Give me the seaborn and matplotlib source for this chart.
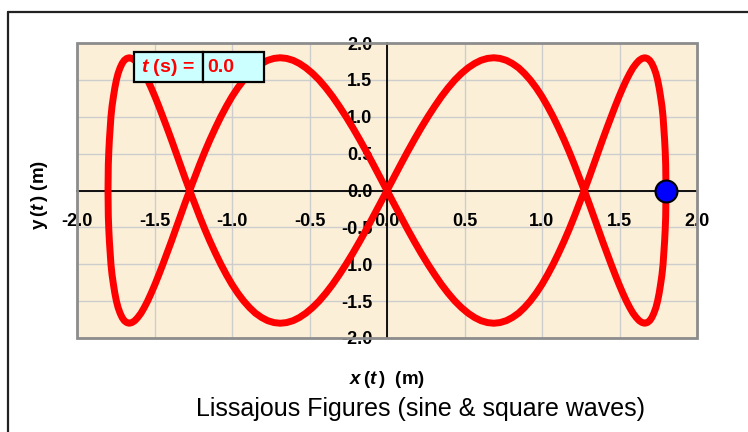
import matplotlib
matplotlib.use("Agg")
import matplotlib.pyplot as plt
from matplotlib.patches import Rectangle
from matplotlib.lines import Line2D
from matplotlib.ticker import MultipleLocator
import seaborn as sns
import pandas as pd

# ---- data: x(t), y(t) in metres, traced once round the figure ----
x_pos_m = [
    # right extreme -> centre (upper/lower lobes)
    1.800, 1.799, 1.798, 1.795, 1.791, 1.786, 1.781, 1.774, 1.765, 1.756, 1.746, 1.735, 1.722, 1.709, 1.695, 1.679,
    1.663, 1.646, 1.627, 1.608, 1.587, 1.566, 1.544, 1.521, 1.497, 1.472, 1.446, 1.419, 1.391, 1.363, 1.334, 1.304,
    1.273, 1.241, 1.209, 1.176, 1.142, 1.107, 1.072, 1.036, 1.000, 0.963, 0.925, 0.887, 0.849, 0.809, 0.770, 0.729,
    0.689, 0.648, 0.606, 0.565, 0.523, 0.480, 0.437, 0.394, 0.351, 0.308, 0.264, 0.220, 0.176, 0.132, 0.088, 0.044,
    0.000,
    # centre -> left extreme
    -0.044, -0.088, -0.132, -0.176, -0.220, -0.264, -0.308, -0.351, -0.394, -0.437, -0.480, -0.523, -0.565, -0.606, -0.648, -0.689,
    -0.729, -0.770, -0.809, -0.849, -0.887, -0.925, -0.963, -1.000, -1.036, -1.072, -1.107, -1.142, -1.176, -1.209, -1.241, -1.273,
    -1.304, -1.334, -1.363, -1.391, -1.419, -1.446, -1.472, -1.497, -1.521, -1.544, -1.566, -1.587, -1.608, -1.627, -1.646, -1.663,
    -1.679, -1.695, -1.709, -1.722, -1.735, -1.746, -1.756, -1.765, -1.774, -1.781, -1.786, -1.791, -1.795, -1.798, -1.799, -1.800,
    # left extreme -> centre
    -1.799, -1.798, -1.795, -1.791, -1.786, -1.781, -1.774, -1.765, -1.756, -1.746, -1.735, -1.722, -1.709, -1.695, -1.679, -1.663,
    -1.646, -1.627, -1.608, -1.587, -1.566, -1.544, -1.521, -1.497, -1.472, -1.446, -1.419, -1.391, -1.363, -1.334, -1.304, -1.273,
    -1.241, -1.209, -1.176, -1.142, -1.107, -1.072, -1.036, -1.000, -0.963, -0.925, -0.887, -0.849, -0.809, -0.770, -0.729, -0.689,
    -0.648, -0.606, -0.565, -0.523, -0.480, -0.437, -0.394, -0.351, -0.308, -0.264, -0.220, -0.176, -0.132, -0.088, -0.044, 0.000,
    # centre -> right extreme
    0.044, 0.088, 0.132, 0.176, 0.220, 0.264, 0.308, 0.351, 0.394, 0.437, 0.480, 0.523, 0.565, 0.606, 0.648, 0.689,
    0.729, 0.770, 0.809, 0.849, 0.887, 0.925, 0.963, 1.000, 1.036, 1.072, 1.107, 1.142, 1.176, 1.209, 1.241, 1.273,
    1.304, 1.334, 1.363, 1.391, 1.419, 1.446, 1.472, 1.497, 1.521, 1.544, 1.566, 1.587, 1.608, 1.627, 1.646, 1.663,
    1.679, 1.695, 1.709, 1.722, 1.735, 1.746, 1.756, 1.765, 1.774, 1.781, 1.786, 1.791, 1.795, 1.798, 1.799, 1.800,
]
y_pos_m = [
    0.000, 0.176, 0.351, 0.523, 0.689, 0.849, 1.000, 1.142, 1.273, 1.391, 1.497, 1.587, 1.663, 1.722, 1.765, 1.791,
    1.800, 1.791, 1.765, 1.722, 1.663, 1.587, 1.497, 1.391, 1.273, 1.142, 1.000, 0.849, 0.689, 0.523, 0.351, 0.176,
    0.000, -0.176, -0.351, -0.523, -0.689, -0.849, -1.000, -1.142, -1.273, -1.391, -1.497, -1.587, -1.663, -1.722, -1.765, -1.791,
    -1.800, -1.791, -1.765, -1.722, -1.663, -1.587, -1.497, -1.391, -1.273, -1.142, -1.000, -0.849, -0.689, -0.523, -0.351, -0.176,
    0.000, 0.176, 0.351, 0.523, 0.689, 0.849, 1.000, 1.142, 1.273, 1.391, 1.497, 1.587, 1.663, 1.722, 1.765, 1.791,
    1.800, 1.791, 1.765, 1.722, 1.663, 1.587, 1.497, 1.391, 1.273, 1.142, 1.000, 0.849, 0.689, 0.523, 0.351, 0.176,
    0.000, -0.176, -0.351, -0.523, -0.689, -0.849, -1.000, -1.142, -1.273, -1.391, -1.497, -1.587, -1.663, -1.722, -1.765, -1.791,
    -1.800, -1.791, -1.765, -1.722, -1.663, -1.587, -1.497, -1.391, -1.273, -1.142, -1.000, -0.849, -0.689, -0.523, -0.351, -0.176,
    0.000, 0.176, 0.351, 0.523, 0.689, 0.849, 1.000, 1.142, 1.273, 1.391, 1.497, 1.587, 1.663, 1.722, 1.765, 1.791,
    1.800, 1.791, 1.765, 1.722, 1.663, 1.587, 1.497, 1.391, 1.273, 1.142, 1.000, 0.849, 0.689, 0.523, 0.351, 0.176,
    0.000, -0.176, -0.351, -0.523, -0.689, -0.849, -1.000, -1.142, -1.273, -1.391, -1.497, -1.587, -1.663, -1.722, -1.765, -1.791,
    -1.800, -1.791, -1.765, -1.722, -1.663, -1.587, -1.497, -1.391, -1.273, -1.142, -1.000, -0.849, -0.689, -0.523, -0.351, -0.176,
    0.000, 0.176, 0.351, 0.523, 0.689, 0.849, 1.000, 1.142, 1.273, 1.391, 1.497, 1.587, 1.663, 1.722, 1.765, 1.791,
    1.800, 1.791, 1.765, 1.722, 1.663, 1.587, 1.497, 1.391, 1.273, 1.142, 1.000, 0.849, 0.689, 0.523, 0.351, 0.176,
    0.000, -0.176, -0.351, -0.523, -0.689, -0.849, -1.000, -1.142, -1.273, -1.391, -1.497, -1.587, -1.663, -1.722, -1.765, -1.791,
    -1.800, -1.791, -1.765, -1.722, -1.663, -1.587, -1.497, -1.391, -1.273, -1.142, -1.000, -0.849, -0.689, -0.523, -0.351, -0.176,
    0.000,
]
dot_x_m = [1.80]
dot_y_m = [0.00]

tick_values = [-2.0, -1.5, -1.0, -0.5, 0.0, 0.5, 1.0, 1.5, 2.0]
tick_labels = ["-2.0", "-1.5", "-1.0", "-0.5", "0.0", "0.5", "1.0", "1.5", "2.0"]
time_value = "0.0"
time_caption = r"$t$ (s) ="
x_label = r"$x\,(t\,)$  (m)"
y_label = r"y$\,(t\,)$ (m)"
title = "Lissajous Figures (sine & square waves)"

# ---- style ----
sns.set_style("white")
plt.rcParams["font.family"] = ["Liberation Sans", "DejaVu Sans"]
plt.rcParams["mathtext.fontset"] = "custom"
plt.rcParams["mathtext.rm"] = "Liberation Sans:bold"
plt.rcParams["mathtext.bf"] = "Liberation Sans:bold"
plt.rcParams["mathtext.it"] = "Liberation Sans:italic:bold"
plt.rcParams["text.color"] = "black"
plt.rcParams["xtick.color"] = "black"
plt.rcParams["ytick.color"] = "black"
plt.rcParams["xtick.labelcolor"] = "black"
plt.rcParams["ytick.labelcolor"] = "black"

W, H = 748, 432
fig = plt.figure(figsize=(W / 100, H / 100), dpi=100)
fig.patch.set_facecolor("white")

ax = fig.add_axes([77 / W, 1 - 338 / H, 620 / W, 295 / H])
ax.set_facecolor("#FBEFD7")

curve = pd.DataFrame({"x": x_pos_m, "y": y_pos_m})
sns.lineplot(data=curve, x="x", y="y", sort=False, estimator=None, ax=ax,
             color="#FF0000", linewidth=5, solid_capstyle="round",
             solid_joinstyle="round", zorder=3, legend=False)
sns.scatterplot(x=dot_x_m, y=dot_y_m, ax=ax, s=250, color="#0000FF",
                edgecolor="black", linewidth=1.5, zorder=5, legend=False,
                clip_on=False)

ax.set_xlim(-2, 2)
ax.set_ylim(-2, 2)
ax.set_xlabel("")
ax.set_ylabel("")

for side in ("top", "right"):
    ax.spines[side].set_visible(False)
ax.spines["left"].set_position(("data", 0))
ax.spines["bottom"].set_position(("data", 0))
for side in ("left", "bottom"):
    ax.spines[side].set_color("black")
    ax.spines[side].set_linewidth(1.3)

ax.set_xticks(tick_values)
ax.set_yticks(tick_values)
ax.xaxis.set_minor_locator(MultipleLocator(0.1))
ax.yaxis.set_minor_locator(MultipleLocator(0.1))

ax.tick_params(axis="x", which="major", direction="inout", length=7, width=1.3,
               color="black", labelcolor="black", pad=12.5, labelsize=13)
ax.tick_params(axis="x", which="minor", direction="inout", length=5, width=1.1,
               color="black")
ax.tick_params(axis="y", which="major", direction="in", length=5.5, width=1.3,
               color="black", labelcolor="black", pad=10.5, labelsize=13)
ax.tick_params(axis="y", which="minor", direction="in", length=3.5, width=1.1,
               color="black")
ax.set_xticklabels(tick_labels, fontweight="bold", fontsize=13, color="black")
ax.set_yticklabels(tick_labels, fontweight="bold", fontsize=13, color="black")

ax.grid(True, which="major", color="#CDCDCD", linewidth=1.0)

# plot-area frame
ax.add_patch(Rectangle((0, 0), 1, 1, transform=ax.transAxes, fill=False,
                       edgecolor="#8C8C8C", linewidth=2, clip_on=False, zorder=6))

# outer chart border (top and left visible)
fig.add_artist(Line2D([8 / W, 1.0], [1 - 12 / H, 1 - 12 / H], color="#222222", lw=1.6))
fig.add_artist(Line2D([8 / W, 8 / W], [0.0, 1 - 12 / H], color="#222222", lw=1.6))

# time read-out box
box_y0 = 1 - 82 / H
box_h = 30 / H
fig.add_artist(Rectangle((134 / W, box_y0), 69 / W, box_h, transform=fig.transFigure,
                         facecolor="#CCFFFF", edgecolor="black", lw=1.6, zorder=10))
fig.add_artist(Rectangle((203 / W, box_y0), 61 / W, box_h, transform=fig.transFigure,
                         facecolor="#CCFFFF", edgecolor="black", lw=1.6, zorder=10))
fig.text(168 / W, 1 - 67 / H, time_caption, color="#FF0000", fontsize=14,
         fontweight="bold", ha="center", va="center", zorder=11)
fig.text(207 / W, 1 - 67 / H, time_value, color="#FF0000", fontsize=14,
         fontweight="bold", ha="left", va="center", zorder=11)

# axis labels and title
fig.text(387 / W, 1 - 380 / H, x_label, fontsize=13.5, fontweight="bold",
         ha="center", va="center", color="black")
fig.text(39 / W, 1 - 195 / H, y_label, fontsize=13.5, fontweight="bold",
         ha="center", va="center", rotation=90, color="black")
fig.text(421 / W, 1 - 416 / H, title, fontsize=18, ha="center", va="baseline",
         color="black")

fig.savefig("out.png", dpi=100)
